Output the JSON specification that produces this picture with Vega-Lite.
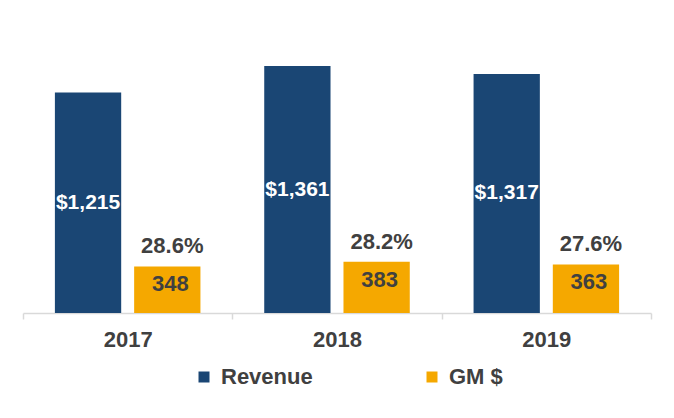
{
  "$schema": "https://vega.github.io/schema/vega-lite/v6.json",
  "width": 628,
  "height": 294,
  "autosize": {"type": "none"},
  "padding": {"left": 23, "top": 19, "right": 23, "bottom": 105},
  "background": "white",
  "config": {
    "view": {"stroke": null},
    "font": "Liberation Sans",
    "text": {"font": "Liberation Sans", "fontWeight": "bold"}
  },
  "data": {
    "values": [
      {"year": "2017", "series": "Revenue", "value": 1215},
      {"year": "2017", "series": "GM $", "value": 348, "pct": 0.286},
      {"year": "2018", "series": "Revenue", "value": 1361},
      {"year": "2018", "series": "GM $", "value": 383, "pct": 0.282},
      {"year": "2019", "series": "Revenue", "value": 1317},
      {"year": "2019", "series": "GM $", "value": 363, "pct": 0.276}
    ]
  },
  "encoding": {
    "x": {
      "field": "year",
      "type": "nominal",
      "scale": {"paddingInner": 0, "paddingOuter": 0},
      "axis": {
        "title": null,
        "labelAngle": 0,
        "domainColor": "#d9d9d9",
        "domainWidth": 1.5,
        "tickColor": "#d9d9d9",
        "tickWidth": 1.5,
        "tickSize": 6,
        "tickBand": "extent",
        "labelPadding": 10,
        "labelFont": "Liberation Sans",
        "labelFontSize": 22,
        "labelFontWeight": "bold",
        "labelColor": "#404040"
      }
    },
    "xOffset": {
      "field": "series",
      "type": "nominal",
      "scale": {"domain": ["Revenue", "GM $"], "paddingInner": 0.1635, "paddingOuter": 0.4025}
    }
  },
  "layer": [
    {
      "transform": [{"filter": "datum.series == 'Revenue'"}],
      "mark": {"type": "bar"},
      "encoding": {
        "y": {"field": "value", "type": "quantitative", "scale": {"domain": [0, 1620]}, "axis": null},
        "color": {
          "field": "series",
          "type": "nominal",
          "scale": {"domain": ["Revenue", "GM $"], "range": ["#1a4674", "#f5a800"]},
          "legend": {
            "title": null,
            "orient": "none",
            "legendX": 170,
            "legendY": 347,
            "direction": "horizontal",
            "symbolType": "square",
            "symbolSize": 121,
            "symbolStrokeWidth": 0,
            "labelFont": "Liberation Sans",
            "labelFontSize": 22,
            "labelFontWeight": "bold",
            "labelColor": "#404040",
            "labelOffset": 6,
            "columnPadding": 108
          }
        }
      }
    },
    {
      "transform": [{"filter": "datum.series == 'GM $'"}],
      "mark": {"type": "bar"},
      "encoding": {
        "y": {"field": "value", "type": "quantitative", "scale": {"domain": [0, 2195]}, "axis": null},
        "color": {"field": "series", "type": "nominal"}
      }
    },
    {
      "transform": [{"filter": "datum.series == 'Revenue'"}],
      "mark": {"type": "text", "color": "white", "fontSize": 21, "baseline": "middle", "align": "center"},
      "encoding": {
        "y": {"field": "value", "type": "quantitative", "scale": {"domain": [0, 3240]}, "axis": null},
        "text": {"field": "value", "type": "quantitative", "format": "$,d"}
      }
    },
    {
      "transform": [{"filter": "datum.series == 'GM $'"}],
      "mark": {"type": "text", "color": "#404040", "fontSize": 22, "baseline": "middle", "align": "center", "dy": 18, "dx": 3},
      "encoding": {
        "y": {"field": "value", "type": "quantitative", "scale": {"domain": [0, 2195]}, "axis": null},
        "text": {"field": "value", "type": "quantitative", "format": "d"}
      }
    },
    {
      "transform": [{"filter": "datum.series == 'GM $'"}],
      "mark": {"type": "text", "color": "#404040", "fontSize": 22, "baseline": "middle", "align": "center", "dy": -20, "dx": 5},
      "encoding": {
        "y": {"field": "value", "type": "quantitative", "scale": {"domain": [0, 2195]}, "axis": null},
        "text": {"field": "pct", "type": "quantitative", "format": ".1%"}
      }
    }
  ],
  "resolve": {"scale": {"y": "independent"}}
}
